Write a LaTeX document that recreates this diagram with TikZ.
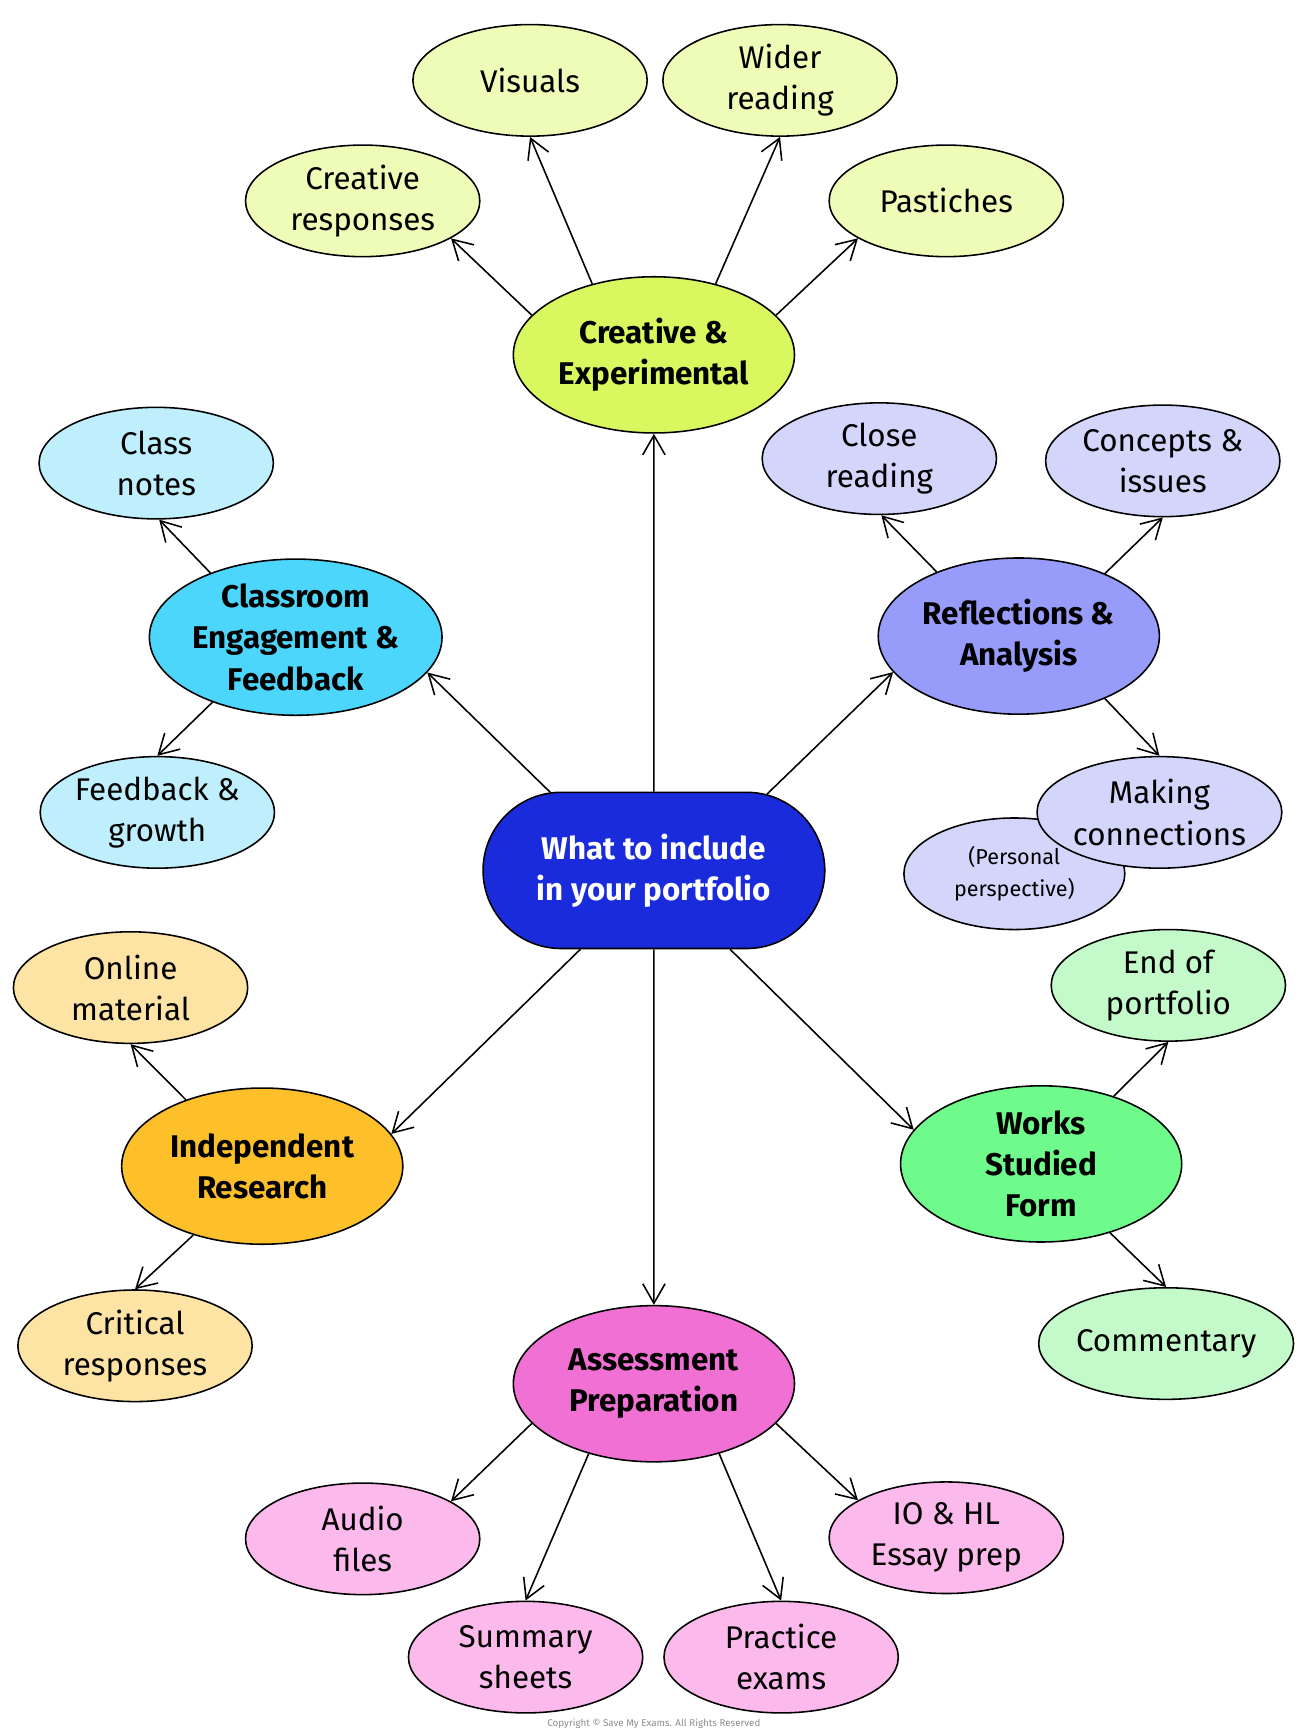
\documentclass[tikz,border=0pt]{standalone}
\usepackage{fontspec}
\setmainfont{Fira Sans}
\usetikzlibrary{shapes.geometric,shapes.misc,arrows.meta}
\definecolor{hubblue}{HTML}{1A2BDC}
\definecolor{creamain}{HTML}{D9F75E}\definecolor{creasub}{HTML}{EEFCB8}
\definecolor{clasmain}{HTML}{4DD6FC}\definecolor{classub}{HTML}{BFEFFD}
\definecolor{reflmain}{HTML}{979CFB}\definecolor{reflsub}{HTML}{D4D5FB}
\definecolor{indemain}{HTML}{FDC02A}\definecolor{indesub}{HTML}{FDE4A4}
\definecolor{workmain}{HTML}{6FFB8B}\definecolor{worksub}{HTML}{C4FAC9}
\definecolor{assemain}{HTML}{F070D4}\definecolor{assesub}{HTML}{FBB9EC}

\begin{document}
\begin{tikzpicture}[
		x=0.02cm, y=-0.02cm,
		link/.style={
			-{Straight Barb[length=3.5mm,width=4mm]},
			thick,
		},
		branch/.style={
			draw,
			ellipse,
			thick,
			inner sep=0pt,
			minimum width=5.04cm,
			minimum height=2.8cm,
			align=center,
			font=\fontsize{16}{21}\selectfont\bfseries,
		},
		leaf/.style={
			draw,
			ellipse,
			thick,
			inner sep=0pt,
			minimum width=4.2cm,
			minimum height=2cm,
			align=center,
			font=\fontsize{16}{21}\selectfont,
		},
	]
	\useasboundingbox (0,0) rectangle (1165,1553);

	% hub
	\node [draw, thick, rounded rectangle, fill=hubblue, text=white,
	minimum width=6.36cm, minimum height=2.8cm, align=center,
	font=\fontsize{16}{21}\selectfont\bfseries] (hub) at (586,780)
	{What to include\\in your portfolio};

	% creative
	\node [branch, fill=creamain] (crea) at (586,318) {Creative \&\\Experimental};
	\node [leaf, fill=creasub] (creaResp) at (325,180) {Creative\\responses};
	\node [leaf, fill=creasub] (creaVis) at (475,72) {Visuals};
	\node [leaf, fill=creasub] (creaWide) at (699,72) {Wider\\reading};
	\node [leaf, fill=creasub] (creaPast) at (848,180) {Pastiches};

	% classroom
	\node [branch, fill=clasmain] (clas) at (265,571) {Classroom\\Engagement \&\\Feedback};
	\node [leaf, fill=classub] (clasNotes) at (140,415) {Class\\notes};
	\node [leaf, fill=classub] (clasFeed) at (141,728) {Feedback \&\\growth};

	% reflections
	\node [branch, fill=reflmain] (refl) at (913,570) {Reflections \&\\Analysis};
	\node [leaf, fill=reflsub] (reflClose) at (788,411) {Close\\reading};
	\node [leaf, fill=reflsub] (reflConc) at (1042,413) {Concepts \&\\issues};
	\node [leaf, fill=reflsub, minimum width=3.96cm,
	font=\fontsize{11}{16}\selectfont] (reflPers) at (909,783) {(Personal\\perspective)};
	\node [leaf, fill=reflsub] (reflConn) at (1039,728) {Making\\connections};

	% independent
	\node [branch, fill=indemain] (inde) at (235,1045) {Independent\\Research};
	\node [leaf, fill=indesub] (indeOnl) at (117,885) {Online\\material};
	\node [leaf, fill=indesub] (indeCrit) at (121,1206) {Critical\\responses};

	% works
	\node [branch, fill=workmain] (work) at (933,1043) {Works\\Studied\\Form};
	\node [leaf, fill=worksub] (workEnd) at (1047,883) {End of\\portfolio};
	\node [leaf, fill=worksub] (workComm) at (1045,1204) {Commentary};

	% assessment
	\node [branch, fill=assemain] (asse) at (586,1240) {Assessment\\Preparation};
	\node [leaf, fill=assesub] (asseAud) at (325,1379) {Audio\\files};
	\node [leaf, fill=assesub] (asseSum) at (471,1485) {Summary\\sheets};
	\node [leaf, fill=assesub] (assePrac) at (700,1485) {Practice\\exams};
	\node [leaf, fill=assesub] (asseIO) at (848,1378) {IO \& HL\\Essay prep};

	\node [text=black!45, font=\fontsize{5}{6}\selectfont] (copy) at (586,1545)
	{Copyright © Save My Exams. All Rights Reserved};

	% connectors: from.angle / to.angle
	\foreach \a/\p/\b/\q in {hub/90/crea/-90, hub/143/clas/-15, hub/34/refl/196,
		hub/227/inde/14, hub/-46/work/165, hub/-90/asse/90,
		crea/162/creaResp/-23, crea/131/creaVis/-90, crea/49/creaWide/-90, crea/18/creaPast/203,
		clas/143/clasNotes/-87, clas/218/clasFeed/90,
		refl/142/reflClose/-88, refl/36/reflConc/-90, refl/-36/reflConn/90,
		inde/139/indeOnl/-90, inde/225/indeCrit/90,
		work/43/workEnd/-90, work/-45/workComm/90,
		asse/198/asseAud/23, asse/227/asseSum/90, asse/-47/assePrac/90, asse/-18/asseIO/157}
	\draw [link] (\a.\p) -- (\b.\q);
\end{tikzpicture}
\end{document}
